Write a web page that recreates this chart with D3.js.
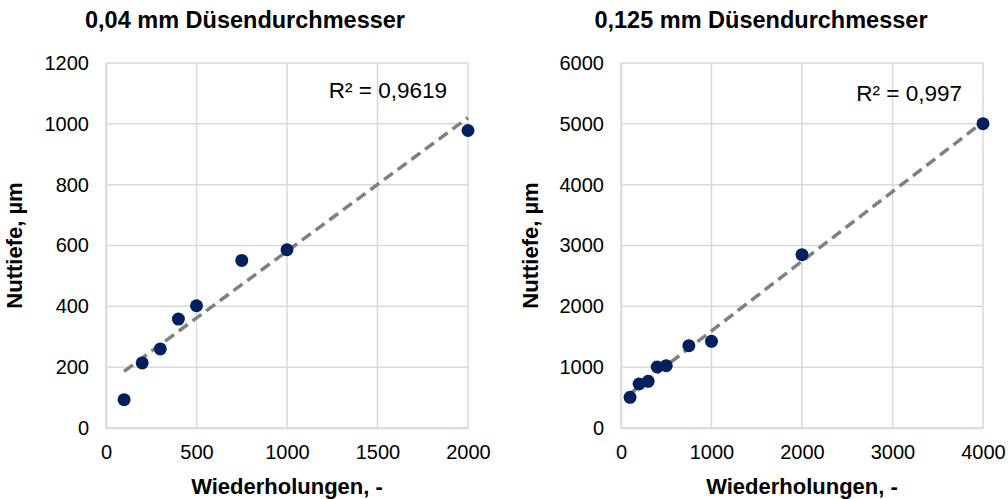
<!DOCTYPE html>
<html>
<head>
<meta charset="utf-8">
<script src="https://cdn.jsdelivr.net/npm/d3@7"></script>
<style>
  body { margin: 0; background: #fff; }
  svg { font-family: "Liberation Sans", Arial, sans-serif; }
</style>
</head>
<body>
<div id="div1"></div>
<script>
// Wiederholungen (x) und Nuttiefe in µm (y)
const x_004 = [100, 200, 300, 400, 500, 750, 1000, 2000]
const y_004 = [93, 214, 260, 358, 402, 551, 586, 978]
const x_0125 = [100, 200, 300, 400, 500, 750, 1000, 2000, 4000]
const y_0125 = [504, 723, 767, 1003, 1025, 1353, 1425, 2849, 5003]

const titles = ["0,04 mm Düsendurchmesser", "0,125 mm Düsendurchmesser"]
const r2Labels = ["R² = 0,9619", "R² = 0,997"]
const xTicks_004 = [0, 500, 1000, 1500, 2000]
const yTicks_004 = [0, 200, 400, 600, 800, 1000, 1200]
const xTicks_0125 = [0, 1000, 2000, 3000, 4000]
const yTicks_0125 = [0, 1000, 2000, 3000, 4000, 5000, 6000]

const svg = d3.select("#div1")
  .append("svg")
  .attr("width", 1008)
  .attr("height", 499)

// lineare Regression fuer die Trendlinie
function fit(xs, ys) {
  const mx = d3.mean(xs), my = d3.mean(ys)
  var sxy = 0, sxx = 0
  for (var i = 0; i < xs.length; i++) {
    sxy += (xs[i] - mx) * (ys[i] - my)
    sxx += (xs[i] - mx) * (xs[i] - mx)
  }
  const m = sxy / sxx
  return { m: m, b: my - m * mx }
}

function drawChart(o) {
  const g = svg.append("g")
  const xScale = d3.scaleLinear().domain([0, d3.max(o.xTicks)]).range([o.left, o.right])
  const yScale = d3.scaleLinear().domain([0, d3.max(o.yTicks)]).range([o.bottom, o.top])

  // Gitter
  g.selectAll(".vg").data(o.xTicks).enter().append("line")
    .attr("x1", d => xScale(d)).attr("x2", d => xScale(d))
    .attr("y1", o.top).attr("y2", o.bottom)
    .attr("stroke", "#d9d9d9").attr("stroke-width", 1.5)
  g.selectAll(".hg").data(o.yTicks).enter().append("line")
    .attr("x1", o.left).attr("x2", o.right)
    .attr("y1", d => yScale(d)).attr("y2", d => yScale(d))
    .attr("stroke", "#d9d9d9").attr("stroke-width", 1.5)

  const xAxis = d3.axisBottom(xScale).tickValues(o.xTicks).tickSize(0).tickPadding(17).tickFormat(d3.format("d"))
  const yAxis = d3.axisLeft(yScale).tickValues(o.yTicks).tickSize(0).tickPadding(17).tickFormat(d3.format("d"))

  const ax = g.append("g").attr("transform", "translate(0," + o.bottom + ")").call(xAxis)
  const ay = g.append("g").attr("transform", "translate(" + o.left + ",0)").call(yAxis)
  ax.select(".domain").attr("stroke", "#d9d9d9").attr("stroke-width", 1.5)
  ay.select(".domain").attr("stroke", "#d9d9d9").attr("stroke-width", 1.5)
  g.selectAll(".tick text").attr("font-size", 20).attr("fill", "#000")
    .attr("font-family", "Liberation Sans, Arial, sans-serif")

  // Trendlinie
  const t = fit(o.xs, o.ys)
  const x0 = d3.min(o.xs), x1 = d3.max(o.xs)
  g.append("line")
    .attr("x1", xScale(x0)).attr("y1", yScale(t.m * x0 + t.b))
    .attr("x2", xScale(x1)).attr("y2", yScale(t.m * x1 + t.b))
    .attr("stroke", "#808080").attr("stroke-width", 3.5)
    .attr("stroke-dasharray", "11,6")

  g.selectAll("circle").data(o.xs).enter().append("circle")
    .attr("cx", d => xScale(d))
    .attr("cy", (d, i) => yScale(o.ys[i]))
    .attr("r", 6.5)
    .attr("fill", "#002060")

  g.append("text")
    .attr("x", o.right - 21).attr("y", o.r2y)
    .attr("text-anchor", "end")
    .attr("font-size", 22.5)
    .text(o.r2)

  g.append("text")
    .attr("x", o.titleX).attr("y", 28)
    .attr("text-anchor", "middle")
    .attr("font-size", 23.5).attr("font-weight", "bold")
    .text(o.title)

  g.append("text")
    .attr("x", (o.left + o.right) / 2).attr("y", 494)
    .attr("text-anchor", "middle")
    .attr("font-size", 22).attr("font-weight", "bold")
    .text("Wiederholungen, -")

  g.append("text")
    .attr("transform", "translate(" + o.yTitleX + "," + (o.top + o.bottom) / 2 + ") rotate(-90)")
    .attr("text-anchor", "middle")
    .attr("font-size", 22).attr("font-weight", "bold")
    .text("Nuttiefe, µm")
}

drawChart({ xs: x_004, ys: y_004, xTicks: xTicks_004, yTicks: yTicks_004,
  left: 106, right: 468, top: 63, bottom: 428, title: titles[0], titleX: 245,
  r2: r2Labels[0], r2y: 98, yTitleX: 22 })
drawChart({ xs: x_0125, ys: y_0125, xTicks: xTicks_0125, yTicks: yTicks_0125,
  left: 621, right: 983, top: 63, bottom: 428, title: titles[1], titleX: 761,
  r2: r2Labels[1], r2y: 101, yTitleX: 538 })
</script>
</body>
</html>
